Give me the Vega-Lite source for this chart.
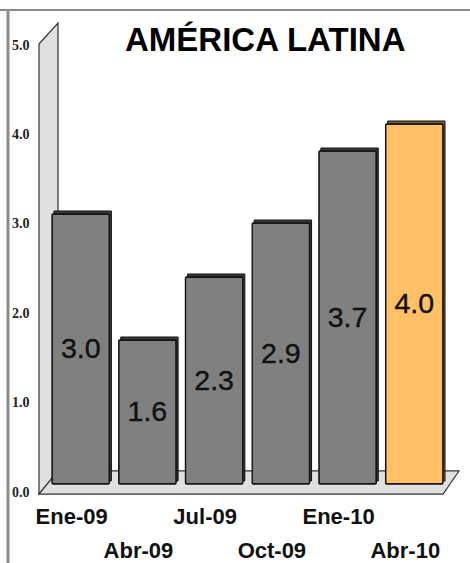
{"$schema":"https://vega.github.io/schema/vega-lite/v6.json","width":391,"height":447,"autosize":"none","padding":{"left":52,"top":44,"right":27,"bottom":72},"background":"white","config":{"view":{"stroke":null},"font":"Liberation Sans"},"title":{"text":"AMÉRICA LATINA","font":"Liberation Sans","fontSize":33,"fontWeight":"bold","color":"#000000","anchor":"start","frame":"group","dx":73,"offset":-49},"datasets":{"bars":[{"periodo":"Ene-09","valor":3.0,"etiqueta":"3.0","actual":false},{"periodo":"Abr-09","valor":1.6,"etiqueta":"1.6","actual":false},{"periodo":"Jul-09","valor":2.3,"etiqueta":"2.3","actual":false},{"periodo":"Oct-09","valor":2.9,"etiqueta":"2.9","actual":false},{"periodo":"Ene-10","valor":3.7,"etiqueta":"3.7","actual":false},{"periodo":"Abr-10","valor":4.0,"etiqueta":"4.0","actual":true}]},"layer":[{"data":{"values":[{"p":-13,"top":5.0,"base":-0.034},{"p":6,"top":5.235,"base":0.224}]},"mark":{"type":"area","fill":"#E0E0E0","stroke":"#333333","strokeWidth":1.2},"encoding":{"x":{"field":"p","type":"quantitative","scale":{"domain":[0,391],"zero":false,"nice":false},"axis":null},"y":{"field":"top","type":"quantitative","scale":{"domain":[0,5],"nice":false},"axis":{"values":[0,1,2,3,4,5],"format":".1f","title":null,"grid":false,"domain":false,"ticks":false,"labelFont":"Liberation Serif","labelFontSize":14,"labelFontWeight":"bold","labelColor":"#222222","labelPadding":23,"labelOffset":1}},"y2":{"field":"base"}}},{"data":{"values":[{"p":-13,"top":-0.034,"base":-0.034},{"p":6,"top":0.224,"base":-0.034},{"p":391,"top":0.224,"base":-0.034},{"p":407,"top":0.224,"base":0.224}]},"mark":{"type":"area","fill":"#E0E0E0","stroke":"#333333","strokeWidth":1.2},"encoding":{"x":{"field":"p","type":"quantitative","scale":{"domain":[0,391],"zero":false,"nice":false},"axis":null},"y":{"field":"top","type":"quantitative","scale":{"domain":[0,5],"nice":false},"axis":null},"y2":{"field":"base"}}},{"data":{"values":[{"p":-44}]},"mark":{"type":"rule","color":"#8C8C8C","strokeWidth":3},"encoding":{"x":{"field":"p","type":"quantitative","scale":{"domain":[0,391],"zero":false,"nice":false},"axis":null},"y":{"datum":5.38,"type":"quantitative","scale":{"domain":[0,5],"nice":false},"axis":null},"y2":{"datum":-0.81}}},{"data":{"values":[{"a":-52,"b":418}]},"mark":{"type":"rule","color":"#8C8C8C","strokeWidth":2},"encoding":{"x":{"field":"a","type":"quantitative","scale":{"domain":[0,391],"zero":false,"nice":false},"axis":null},"x2":{"field":"b"},"y":{"datum":5.38,"type":"quantitative","scale":{"domain":[0,5],"nice":false},"axis":null}}},{"data":{"name":"bars"},"mark":{"type":"bar","xOffset":2,"x2Offset":2,"yOffset":-3,"y2Offset":-3,"stroke":"#111111","strokeWidth":1},"encoding":{"x":{"field":"periodo","type":"nominal","sort":null,"scale":{"paddingInner":0.14,"paddingOuter":0},"axis":null},"y":{"field":"valor","type":"quantitative","scale":{"domain":[-0.0778,4.889],"nice":false},"axis":null},"fill":{"field":"actual","type":"nominal","scale":{"domain":[false,true],"range":["#3A3A3A","#7A5A2A"]},"legend":null}}},{"data":{"name":"bars"},"mark":{"type":"bar","stroke":"#111111","strokeWidth":1.3,"cornerRadius":1},"encoding":{"x":{"field":"periodo","type":"nominal","sort":null,"scale":{"paddingInner":0.14,"paddingOuter":0},"axis":{"title":null,"domain":false,"ticks":false,"labelAngle":0,"labelFont":"Liberation Sans","labelFontSize":22,"labelFontWeight":"bold","labelColor":"#111111","labelOffset":-9,"labelPadding":15,"labelLineHeight":34,"labelOverlap":false,"labelExpr":"indexof(['Abr-09','Oct-09','Abr-10'],datum.label)>=0?[' ',datum.label]:[datum.label,' ']"}},"y":{"field":"valor","type":"quantitative","scale":{"domain":[-0.0778,4.889],"nice":false},"axis":null},"fill":{"field":"actual","type":"nominal","scale":{"domain":[false,true],"range":["#808080","#FFC066"]},"legend":null}}},{"data":{"name":"bars"},"mark":{"type":"text","font":"Liberation Sans","fontSize":28.5,"color":"#111111","stroke":"#111111","strokeWidth":0.4,"baseline":"middle"},"encoding":{"x":{"field":"periodo","type":"nominal","sort":null,"scale":{"type":"band","paddingInner":0.14,"paddingOuter":0},"axis":null},"y":{"field":"valor","type":"quantitative","scale":{"domain":[-0.1556,9.778],"nice":false},"axis":null},"text":{"field":"etiqueta"}}}],"resolve":{"scale":{"x":"independent","y":"independent","fill":"independent"},"axis":{"x":"independent","y":"independent"}}}
